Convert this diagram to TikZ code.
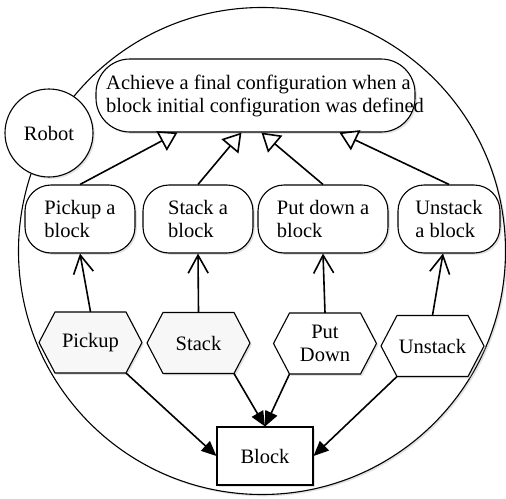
\documentclass[tikz,border=0pt]{standalone}
\usepackage{fontspec}
\setmainfont{Liberation Serif}
\usetikzlibrary{arrows.meta,shadows,calc}

% hexagon with flat top/bottom and pointed sides: name, x, y, fill, text
\newcommand{\hexagonnode}[5]{%
  \draw[hexline, fill=#4]
    (#2-51.5,#3) -- (#2-35.5,#3-30.5) -- (#2+35.5,#3-30.5) --
    (#2+51.5,#3) -- (#2+35.5,#3+30.5) -- (#2-35.5,#3+30.5) -- cycle;
  \node[minimum width=103pt, minimum height=61pt, inner sep=0pt, align=center] (#1) at (#2,#3) {#5};
  \coordinate (#1-bl) at (#2-35.5,#3+30.5);
  \coordinate (#1-br) at (#2+35.5,#3+30.5);
}

\begin{document}
\begin{tikzpicture}[x=1pt,y=-1pt,
  every node/.style={font=\fontsize{20.5}{23}\selectfont},
  softshadow/.style={drop shadow={shadow xshift=1.8pt,shadow yshift=-1.8pt,fill=black!25,opacity=0.45}},
  hexline/.style={line width=1.1pt, softshadow},
  goalbox/.style={draw, line width=1.1pt, rounded corners=34pt, fill=white, softshadow},
  actbox/.style={draw, line width=1.1pt, rounded corners=26pt, minimum height=68pt,
                 align=left, fill=white, softshadow, inner sep=2pt},
  genarrow/.style={line width=1.6pt, -{Triangle[open,length=18pt,width=22pt,fill=white]}},
  uparrow/.style={line width=1.6pt, -{Straight Barb[length=18pt,width=20pt]}},
  toblock/.style={line width=1.6pt, -{Triangle[length=15pt,width=13pt]}}]

\useasboundingbox (0,0) rectangle (506,498);

% enclosing system boundary
\draw[line width=1.1pt, fill=white, softshadow] (262,251) circle (243.5pt);

% actor
\node[draw, circle, line width=1.1pt, minimum size=88pt, inner sep=0pt, fill=white, softshadow] (robot) at (49,133) {Robot};

% main goal
\node[goalbox, minimum width=319pt, minimum height=73pt] (goal) at (255.5,95.5) {};
\node[anchor=west, align=left, inner sep=0pt] (goaltext) at (106,96)
  {Achieve a final configuration when a\\block initial configuration was defined};

% sub-goals
\node[actbox, minimum width=110pt] (act1) at (80,219) {Pickup a\\block};
\node[actbox, minimum width=110pt] (act2) at (198,219) {Stack a\\block};
\node[actbox, minimum width=130pt] (act3) at (323,219) {Put down a\\block};
\node[actbox, minimum width=102pt] (act4) at (449,219) {Unstack\\a block};

% operations
\hexagonnode{hex1}{90.5}{342.5}{gray!6}{Pickup}
\hexagonnode{hex2}{198.5}{343}{gray!6}{Stack}
\hexagonnode{hex3}{325}{343.5}{white}{Put\\Down}
\hexagonnode{hex4}{432.5}{346}{white}{Unstack}

% resource
\node[draw, line width=1.1pt, minimum width=96pt, minimum height=58pt, fill=white, softshadow] (block) at (265,456) {Block};

% targets on the lower edge of the main goal
\coordinate (g1) at ($(goal.south west)+(82,0)$);
\coordinate (g2) at ($(goal.south west)+(146,0)$);
\coordinate (g3) at ($(goal.south west)+(166,0)$);
\coordinate (g4) at ($(goal.south west)+(244,0)$);

\draw[genarrow] (act1.north) -- (g1);
\draw[genarrow] (act2.north) -- (g2);
\draw[genarrow] (act3.north) -- (g3);
\draw[genarrow] (act4.north) -- (g4);

\draw[uparrow] (hex1.north) -- (act1.south);
\draw[uparrow] (hex2.north) -- (act2.south);
\draw[uparrow] (hex3.north) -- (act3.south);
\draw[uparrow] (hex4.north) -- ($(act4.south)+(-6,0)$);

\draw[toblock] (hex1-br) -- (block.west);
\draw[toblock] (hex2-br) -- (block.north);
\draw[toblock] (hex3-bl) -- (block.north);
\draw[toblock] (hex4-bl) -- (block.east);

\end{tikzpicture}
\end{document}
